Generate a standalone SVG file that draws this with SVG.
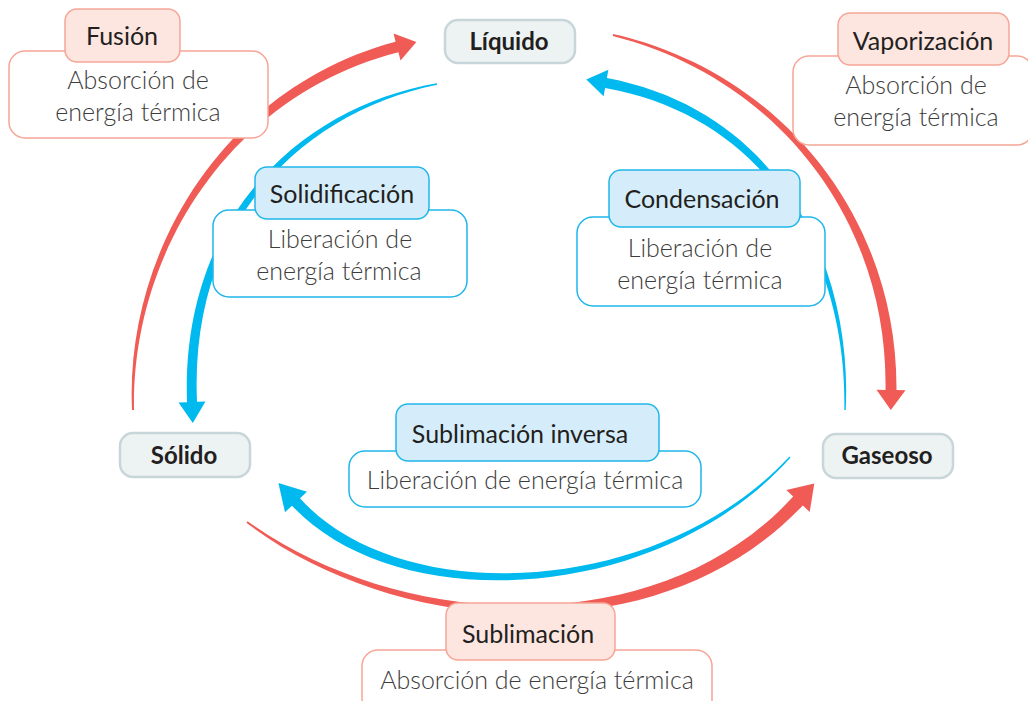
<svg xmlns="http://www.w3.org/2000/svg" width="1028" height="701" viewBox="0 0 1028 701">
<style>
.red{fill:#f05b55}
.blue{fill:#00b9ef}
.state rect{fill:#edf2f3;stroke:#c9d6d9;stroke-width:2.5}
.state text{font-family:Lato,"Noto Sans",sans-serif;font-weight:700;font-size:24px;fill:#231f20;text-anchor:middle}
.hr{fill:#fde5e0;stroke:#f6a596;stroke-width:1.5}
.dr{fill:#ffffff;stroke:#f6a596;stroke-width:1.5}
.hb{fill:#d5edfa;stroke:#1fb6ea;stroke-width:1.5}
.db{fill:#ffffff;stroke:#1fb6ea;stroke-width:1.5}
.h{font-family:Lato,"Noto Sans",sans-serif;font-size:25px;fill:#231f20;text-anchor:middle}
.d{font-family:Lato,"Noto Sans",sans-serif;font-weight:300;font-size:25px;fill:#3d3d3d;text-anchor:middle}
</style>
<rect width="1028" height="701" fill="#ffffff"/>
<g id="connectors">
<path class="red" d="M134,410 C131.1,250.9 232.9,93.9 398.4,52.3 L400.5,60.6 L416.4,42 L393.5,33.4 L395.6,41.7 C227.1,86.1 124.9,249.1 132,410 Z"/>
<path class="red" d="M612.8,36 C778.2,77.7 888.4,221.6 885.5,389.9 L876.5,389.8 L890.8,410 L905.5,390.2 L896.5,390.1 C897.6,218.4 781.8,72.3 613.2,34 Z"/>
<path class="red" d="M246.4,522.8 C398.9,638.6 661.8,655.4 802.8,505.4 L809.7,511.9 L814.3,483.4 L786.3,490.1 L793.2,496.6 C658.2,644.6 401.1,631.4 247.6,521.2 Z"/>
<path class="blue" d="M436.9,83.3 C298.6,107.5 180.9,218.5 187,402.2 L178.5,402.5 L192.8,423 L205.5,401.5 L197,401.8 C189.1,221.5 301.4,112.5 437.1,84.7 Z"/>
<path class="blue" d="M845.7,410 C852.8,269.4 782.7,111.5 606.9,78.1 L608.4,69.7 L586.3,79.4 L603.6,96.3 L605.1,87.9 C777.3,118.5 847.2,270.6 844.3,410 Z"/>
<path class="blue" d="M789.5,456.5 C658.8,597.1 401.2,610.4 300,498.3 L307,491.8 L278.4,482.9 L285,512.2 L292,505.7 C398.8,619.6 661.2,602.9 790.5,457.5 Z"/>
</g>
<g id="liquido" class="state"><rect x="445" y="20" width="130" height="43" rx="13"/><text x="509" y="50">Líquido</text></g>
<g id="solido" class="state"><rect x="120" y="433" width="130" height="44" rx="13"/><text x="184" y="464">Sólido</text></g>
<g id="gaseoso" class="state"><rect x="823" y="434" width="130" height="44" rx="13"/><text x="887" y="464">Gaseoso</text></g>
<g id="fusion">
<rect class="dr" x="9" y="51" width="259" height="87" rx="16"/>
<rect class="hr" x="65" y="9" width="115" height="53" rx="12"/>
<text class="h" x="122" y="45">Fusión</text>
<text class="d" x="138" y="89">Absorción de</text>
<text class="d" x="138" y="121">energía térmica</text>
</g>
<g id="vaporizacion">
<rect class="dr" x="793" y="56" width="240" height="89" rx="16"/>
<rect class="hr" x="838" y="13" width="171" height="52" rx="12"/>
<text class="h" x="923" y="50">Vaporización</text>
<text class="d" x="916" y="94">Absorción de</text>
<text class="d" x="916" y="126">energía térmica</text>
</g>
<g id="solidificacion">
<rect class="db" x="213" y="210" width="254" height="87" rx="16"/>
<rect class="hb" x="255" y="167" width="174" height="52" rx="12"/>
<text class="h" x="342" y="203">Solidificación</text>
<text class="d" x="340" y="248">Liberación de</text>
<text class="d" x="339" y="280">energía térmica</text>
</g>
<g id="condensacion">
<rect class="db" x="577" y="217" width="248" height="89" rx="16"/>
<rect class="hb" x="609" y="170" width="191" height="57" rx="12"/>
<text class="h" x="702" y="208">Condensación</text>
<text class="d" x="700" y="257">Liberación de</text>
<text class="d" x="700" y="289">energía térmica</text>
</g>
<g id="sublimacion-inversa">
<rect class="db" x="349" y="451" width="352" height="56" rx="16"/>
<rect class="hb" x="396" y="404" width="263" height="57" rx="12"/>
<text class="h" x="520" y="443">Sublimación inversa</text>
<text class="d" x="525" y="489">Liberación de energía térmica</text>
</g>
<g id="sublimacion">
<rect class="dr" x="362" y="650" width="350" height="70" rx="16"/>
<rect class="hr" x="446" y="603" width="169" height="57" rx="12"/>
<text class="h" x="528" y="643">Sublimación</text>
<text class="d" x="537" y="689">Absorción de energía térmica</text>
</g>
</svg>
